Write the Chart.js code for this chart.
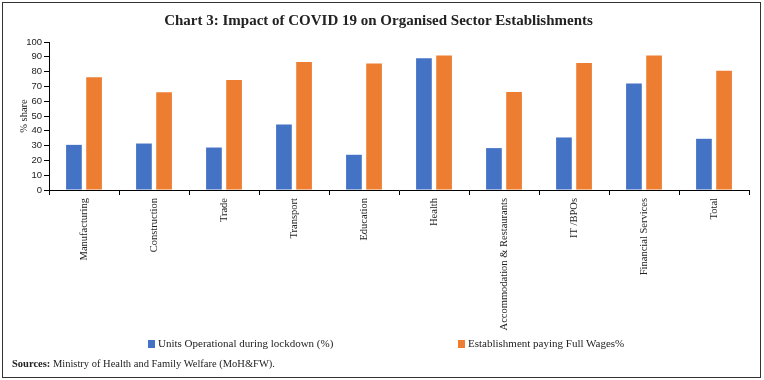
<!DOCTYPE html>
<html>
<head>
<meta charset="utf-8">
<script src="https://cdn.jsdelivr.net/npm/chart.js@4.4.0/dist/chart.umd.min.js"></script>
<style>
  body { margin: 0; background: #fff; }
  #wrap { position: relative; width: 764px; height: 380px; }
  #frame { position: absolute; left: 2px; top: 2px; width: 757px; height: 374px; border: 1px solid #333; }
  canvas { position: absolute; left: 0; top: 0; }
  .leg { position: absolute; top: 337px; font: 11px "Liberation Serif", serif; color: #222; white-space: nowrap; }
  .leg i { display: inline-block; width: 7px; height: 8px; margin-right: 3px; vertical-align: -1px; }
  #src { position: absolute; left: 12px; top: 358px; font: 10.5px "Liberation Serif", serif; color: #222; }
</style>
</head>
<body>
<div id="wrap">
  <div id="frame"></div>
  <canvas id="chart" width="764" height="380"></canvas>
  <div id="leg1" class="leg" style="left:148px"></div>
  <div id="leg2" class="leg" style="left:458px"></div>
  <div id="src"><b>Sources:</b> Ministry of Health and Family Welfare (MoH&amp;FW).</div>
</div>
<script>
// data
const categories = ['Manufacturing', 'Construction', 'Trade', 'Transport', 'Education', 'Health',
    'Accommodation & Restaurants', 'IT /BPOs', 'Financial Services', 'Total'];
const unitsOperational = [30.5, 31.4, 28.7, 44.2, 23.8, 89, 28.3, 35.5, 71.9, 34.6];
const fullWages = [76.2, 66, 74.4, 86.5, 85.4, 90.8, 66.3, 85.8, 90.8, 80.6];
const seriesNames = ['Units Operational during lockdown (%)', 'Establishment paying Full Wages%'];
const seriesColors = ['#4472C4', '#ED7D31'];

const ctx = document.getElementById('chart').getContext('2d');
const chart = new Chart(ctx, {
    type: 'bar',
    data: {
        labels: categories,
        datasets: [
            { label: seriesNames[0], data: unitsOperational, backgroundColor: seriesColors[0] },
            { label: seriesNames[1], data: fullWages, backgroundColor: seriesColors[1] }
        ]
    },
    options: {
        responsive: false,
        animation: false,
        categoryPercentage: 0.575,
        barPercentage: 0.78,
        layout: { padding: { left: 8, right: 15, bottom: 42, top: 0 } },
        plugins: {
            legend: { display: false },
            tooltip: { enabled: false },
            title: {
                display: true,
                text: 'Chart 3: Impact of COVID 19 on Organised Sector Establishments',
                color: '#222',
                font: { family: '"Liberation Serif", serif', size: 15, weight: 'bold' },
                padding: { top: 12, bottom: 12 }
            }
        },
        scales: {
            x: {
                grid: { drawOnChartArea: false, color: '#000', tickLength: 5 },
                border: { color: '#000' },
                ticks: {
                    minRotation: 90, maxRotation: 90, autoSkip: false, padding: 3,
                    color: '#222',
                    font: { family: '"Liberation Serif", serif', size: 10.5 }
                },
                afterFit: s => { s.height = 148; }
            },
            y: {
                min: 0, max: 100,
                grid: { drawOnChartArea: false, color: '#000', tickLength: 5 },
                border: { color: '#000' },
                ticks: {
                    stepSize: 10, autoSkip: false, padding: 2, color: '#222',
                    font: { family: '"Liberation Sans", sans-serif', size: 9.5 }
                },
                title: {
                    display: true, text: '% share', color: '#222',
                    font: { family: '"Liberation Serif", serif', size: 10.5 },
                    padding: { top: 10, bottom: 0 }
                },
                afterFit: s => { s.width = 41; }
            }
        }
    }
});

// legend drawn as html so the two items sit apart like the original
[document.getElementById('leg1'), document.getElementById('leg2')].forEach((el, i) => {
    el.innerHTML = `<i style="background:${seriesColors[i]}"></i>${seriesNames[i]}`;
});
</script>
</body>
</html>
